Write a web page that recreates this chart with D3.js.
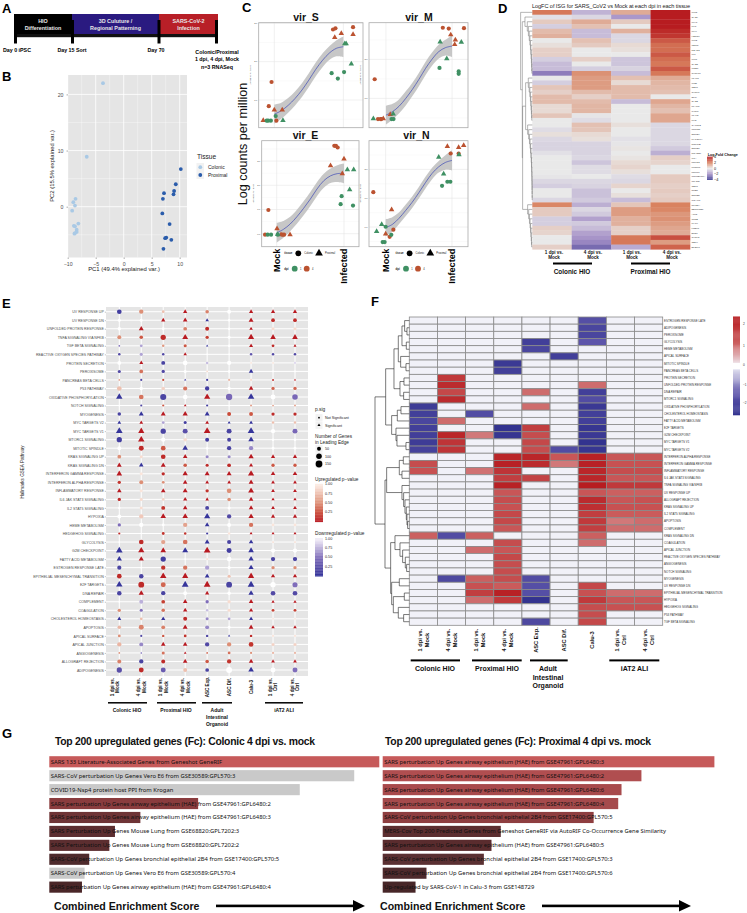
<!DOCTYPE html>
<html><head><meta charset="utf-8">
<script src="https://cdnjs.cloudflare.com/ajax/libs/d3/7.8.5/d3.min.js"></script>
<style>html,body{margin:0;padding:0;background:#fff}svg{display:block}text{font-family:"Liberation Sans",Arial,sans-serif}</style>
</head><body><svg id="fig" width="747" height="913"></svg>
<script>
// ---------- Panel B ----------
const pcaColonic=[[-3.7,22],[-6.6,8.9],[-8.6,1.4],[-9,0.8],[-8.7,0.2],[-9.2,-0.7],[-8.1,-3],[-8.9,-3.4],[-8.7,-3.5],[-8.4,-4.1],[-8.4,-4.5],[-8.7,-4.7],[-8.8,-4.8]];
const pcaProximal=[[10.2,6.7],[9.3,4],[9,2.8],[8.9,2.2],[7.2,2.4],[7,1.4],[6.9,-1.2],[8.2,-3.1],[7.6,-5.5],[7.4,-5.6],[8.5,-5.9],[7.1,-7.5]];
// ---------- Panel C : [x, y, tissue, dpi] ----------
const virS=[[.85,2.84,'c',4],[.885,2.87,'c',4],[1.14,2.9,'c',4],[-.04,1.47,'c',4],[-.08,.84,'c',4],[.03,.46,'c',4],[.875,2.63,'p',4],[.97,2.74,'p',4],[1.14,2.71,'p',4],[-.16,.47,'p',4],[0,.74,'p',4],[.115,.74,'p',4],[.83,1.7,'c',1],[.92,1.56,'c',1],[1.01,1.73,'c',1],[.02,.58,'c',1],[-.09,.46,'c',1],[-.05,.46,'c',1],[-.11,.46,'c',1],[1.02,2.47,'p',1],[1.04,2.47,'p',1],[1.115,1.94,'p',1],[.125,.47,'p',1]];
const virM=[[.86,2.81,'c',4],[.95,2.79,'c',4],[1.18,2.8,'c',4],[-.17,1.49,'c',4],[-.12,.47,'c',4],[-.07,.47,'c',4],[-.08,.47,'c',4],[.98,2.63,'p',4],[1.05,2.5,'p',4],[1.04,2.38,'p',4],[.065,.59,'p',4],[-.04,.48,'p',4],[.81,1.78,'c',1],[1.1,1.69,'c',1],[1.1,1.63,'c',1],[.085,.47,'c',1],[.115,.47,'c',1],[.82,2.45,'p',1],[.92,2.02,'p',1],[1.14,2.44,'p',1],[-.19,.48,'p',1],[.11,.6,'p',1]];
const virE=[[.856,3.63,'c',4],[.88,3.63,'c',4],[.906,3.56,'c',4],[-.124,.98,'c',4],[-.173,-.04,'c',4],[.084,-.04,'c',4],[.109,-.04,'c',4],[.8,2.81,'p',4],[1,3.09,'p',4],[.975,2.48,'p',4],[.005,.21,'p',4],[.198,-.04,'p',4],[.064,-.04,'p',4],[.965,1.55,'c',1],[.95,1.22,'c',1],[1.134,1.16,'c',1],[-.084,-.04,'c',1],[-.134,-.04,'c',1],[.015,-.04,'c',1],[1.05,2.64,'p',1],[1.144,2.64,'p',1],[1.084,1.82,'p',1],[.015,-.03,'p',1]];
const virN=[[-.186,1.21,'c',4],[.98,2.55,'c',4],[1.1,2.55,'c',4],[.06,-.34,'c',4],[.116,-.09,'c',4],[.93,2.8,'p',4],[1.1,2.76,'p',4],[1.176,2.83,'p',4],[.09,.6,'p',4],[0,-.24,'p',4],[.85,1.43,'c',1],[.93,1.57,'c',1],[.975,1.57,'c',1],[-.045,-.52,'c',1],[-.015,-.52,'c',1],[.085,-.27,'c',1],[0,.01,'c',1],[.8,2.42,'p',1],[.874,1.84,'p',1],[1.105,2.51,'p',1],[-.06,.09,'p',1],[-.136,-.15,'p',1]];
const fitX=[0,.1,.2,.3,.4,.5,.6,.7,.8,.9,1];
const fitS=[.63,.72,.86,1.04,1.26,1.52,1.8,2.04,2.23,2.35,2.39], seS=[.25,.21,.19,.18,.18,.18,.18,.18,.18,.21,.27];
const fitM=[.57,.66,.8,1,1.23,1.49,1.77,2.01,2.2,2.3,2.34], seM=[.24,.2,.18,.18,.17,.17,.17,.17,.18,.2,.28];
const fitE=[.04,.18,.4,.7,1.05,1.43,1.85,2.19,2.39,2.48,2.49], seE=[.41,.35,.3,.29,.29,.29,.29,.29,.3,.35,.41];
const fitN=[-.02,.09,.3,.57,.86,1.19,1.54,1.86,2.09,2.24,2.31], seN=[.29,.25,.2,.2,.2,.2,.2,.2,.2,.25,.35];
// ---------- Panel D ----------
const dCols=["1 dpi vs.|Mock","4 dpi vs.|Mock","1 dpi vs.|Mock","4 dpi vs.|Mock"];
const isgGenes=["IFIT3","OASL","IFIH1","MX1","IFI44","HERC6","IFIT2","ISG15","RSAD2","IFI6","IFIT1","OAS3","IFNB1","CXCL10","ICAM1","IFI35","GBP1","CXCL8","SLPI","OAS2","PLAUR","TXNIP","IRAK2","MX2","GALNT2","TRIM25","SOCS4","MAP3K14","RNF19B","SOCS7","RNASEL","IL1A","PRKD2","MINPP1","PRMT1","TNFRSF10A","TRADD","GBP7","NUB1","SOCS5","TICAM1","NFKBIA","SERPINE1","ATF3","JUNB","MAFF","FOSL1","ETS1","CXCL3","GBP4","EPSTI1"];
const isgValues=[[2.2,-1.2,1.2,4.5],[-.2,-.4,-1.8,4.5],[.6,1.2,.6,4.5],[-.6,.8,0,4.5],[.9,-1,1.1,3.7],[1.1,-1,-.4,3.5],[0,.8,-.4,2.8],[.2,.6,.3,2.4],[.5,0,.2,2.4],[.5,0,0,2.8],[-.6,.5,-.8,2.4],[-1,0,-.8,2.2],[-1,-.6,-.5,2.8],[-2.4,1.7,-1,2.2],[0,1.5,.8,1.2],[-.6,1.5,.3,1],[.7,1.5,.9,.9],[.5,.9,.9,.8],[.9,.5,.9,0],[.9,.9,-1,1.3],[.3,1,0,1],[.3,1,0,.8],[.7,-.1,0,1.3],[0,-.3,0,1.3],[0,.8,.2,-.4],[-.3,.7,0,-.4],[.2,.3,0,-.4],[-.4,.2,-.2,-.4],[-.5,-.5,-.1,-.4],[-.5,-.5,.1,-.7],[-.2,-.5,0,-1.3],[0,-.4,.1,.5],[0,-.8,.3,.4],[0,-.3,.4,0],[0,-.3,.2,0],[-.1,0,-.3,.6],[-.4,-.4,-.4,.6],[-.6,-.5,.4,.5],[0,-.9,0,.6],[0,-.9,.2,.5],[-.4,-.7,-1,.6],[1.9,-1.3,.7,2],[.6,-.4,1.5,1.9],[.6,-.7,1.5,1.6],[-.6,-1.6,1.1,1.7],[-.6,-.7,1.1,1.5],[.5,-1,.5,1.3],[.4,-1.6,.5,1.2],[0,-1.9,2.2,3],[0,-2.2,2.2,1.5],[.5,-2.8,-1.4,2.6]];
// ---------- Panel E ----------
const gseaPathways=["UV RESPONSE UP","UV RESPONSE DN","UNFOLDED PROTEIN RESPONSE","TNFA SIGNALING VIA NFKB","TGF BETA SIGNALING","REACTIVE OXYGEN SPECIES PATHWAY","PROTEIN SECRETION","PEROXISOME","PANCREAS BETA CELLS","P53 PATHWAY","OXIDATIVE PHOSPHORYLATION","NOTCH SIGNALING","MYOGENESIS","MYC TARGETS V2","MYC TARGETS V1","MTORC1 SIGNALING","MITOTIC SPINDLE","KRAS SIGNALING UP","KRAS SIGNALING DN","INTERFERON GAMMA RESPONSE","INTERFERON ALPHA RESPONSE","INFLAMMATORY RESPONSE","IL6 JAK STAT3 SIGNALING","IL2 STAT5 SIGNALING","HYPOXIA","HEME METABOLISM","HEDGEHOG SIGNALING","GLYCOLYSIS","G2M CHECKPOINT","FATTY ACID METABOLISM","ESTROGEN RESPONSE LATE","EPITHELIAL MESENCHYMAL TRANSITION","E2F TARGETS","DNA REPAIR","COMPLEMENT","COAGULATION","CHOLESTEROL HOMEOSTASIS","APOPTOSIS","APICAL SURFACE","APICAL JUNCTION","ANGIOGENESIS","ALLOGRAFT REJECTION","ADIPOGENESIS"];
const gseaCols=["1 dpi vs.|Mock","4 dpi vs.|Mock","1 dpi vs.|Mock","4 dpi vs.|Mock","ASC Exp.","ASC Dif.","Calu-3","1 dpi vs.|Ctrl","4 dpi vs.|Ctrl"];
// signed p: positive = upregulated, negative = downregulated; |p| < .05 = significant
const gseaP=[[-.1,.5,.75,.02,.45,1,.02,.02,.02],[1,1,.02,.02,-.02,1,.02,.1,.1],[1,.02,1,.45,.1,1,.02,.9,.9],[.5,.3,.1,.02,.2,1,.02,.02,.02],[-.5,-.7,.55,.3,-.02,1,.02,.1,.02],[-.2,-.7,-.2,.02,1,1,-.3,-.2,-.2],[1,.02,-.15,1,-.8,1,.95,.95,-.9],[-.2,.4,-.2,1,.9,1,-.02,1,1],[.6,-.2,.25,-.02,-.1,.7,.9,.1,.02],[.75,1,.85,.4,-.1,1,.02,.35,.35],[-.02,.4,-.15,1,.02,-.45,-.02,1,-.45],[1,-.2,.3,.02,-.1,1,.6,.6,.6],[-.15,-.02,.02,.02,-.02,.25,.3,.1,.1],[-.02,.02,-.7,-.1,.02,-.02,-.02,.75,.75],[-.02,.02,-.15,-.25,.02,-.15,-.02,1,-.45],[-.1,.02,1,.9,-.1,-.15,-.02,1,1],[1,.1,.3,-.02,1,-.15,-.6,1,1],[.5,.9,.1,.02,-.6,-.6,.02,.02,.02],[.02,-.02,.02,.3,.1,.1,.02,.3,.3],[.02,.95,.1,.02,.02,.02,.02,.02,.02],[.15,.5,.5,.02,.02,.02,.02,.02,.02],[.02,.95,.02,.02,.15,.5,.02,.02,.02],[.1,.9,.85,.02,.02,.5,.02,.02,.02],[1,.9,.15,.02,-.15,1,.02,.02,.02],[1,.8,.02,.02,-.02,-.2,.02,.02,.02],[-.5,1,1,.6,-.02,1,.4,.95,.95],[.1,1,.15,.15,-.1,.95,.02,.02,.02],[1,.1,.6,.4,-.02,-.15,-.02,.9,.9],[-.02,.02,.02,-.02,.02,-.1,-.02,1,1],[-.02,.02,-.1,1,.95,1,-.02,-.15,-.15],[-.15,1,.15,.4,-.7,1,-.02,.5,.5],[.1,-.15,.02,.02,-.02,.75,.02,.02,.02],[-.02,.1,.35,-.02,.02,-.15,-.02,1,-.5],[-.15,.02,-.15,1,.02,1,-.02,-.2,-.2],[1,-.75,.2,.02,-.5,.9,.02,.02,.02],[.5,-.5,.4,.02,-.8,.9,.02,.2,.2],[-.02,.75,-.02,.1,-.6,-.7,-.02,.95,.95],[.7,.45,.45,.02,-.6,1,.02,.02,.02],[.5,-.2,.3,.15,-.2,-.02,.1,.95,.95],[.7,-.6,.02,.02,-.2,.5,.15,.85,.85],[.5,-.4,.4,.02,.35,.4,.5,.7,.7],[.45,-.15,.1,.02,.3,.15,.02,.02,.02],[-.25,.1,-.35,.75,-.15,1,-.02,1,-.5]];
const gseaGenes=[[70,60,25,50,40,50,50,50,50],[30,30,50,60,35,20,70,45,45],[40,70,25,45,50,20,35,30,30],[50,40,90,100,35,30,110,90,90],[10,25,20,30,15,20,45,25,25],[20,30,20,35,10,10,20,20,20],[50,45,50,70,20,60,10,10,15],[30,45,35,30,10,20,60,10,10],[10,15,15,15,15,15,15,12,15],[70,40,40,55,60,35,60,35,35],[120,70,120,70,110,130,120,80,100],[10,15,15,20,15,10,15,10,12],[40,70,70,80,70,50,50,35,35],[40,40,25,30,40,25,40,20,20],[130,110,90,80,130,80,130,60,80],[90,120,60,40,50,50,90,20,20],[50,80,70,90,20,60,60,25,25],[45,30,70,60,30,30,80,50,50],[65,60,70,40,30,45,45,35,35],[90,30,35,80,70,70,110,60,60],[35,50,25,60,40,40,70,40,40],[60,30,60,70,35,70,100,40,40],[35,30,25,50,35,40,60,30,30],[20,30,50,60,50,30,60,40,40],[50,60,90,90,110,60,80,50,50],[35,60,25,60,60,50,60,25,25],[15,5,25,20,15,20,25,25,25],[10,70,60,70,70,55,60,10,10],[130,110,90,100,130,80,90,60,60],[80,75,90,10,15,70,80,60,60],[55,10,60,60,60,30,75,35,35],[70,65,120,110,65,30,110,50,50],[120,110,80,130,130,110,130,90,85],[65,80,60,50,50,40,80,70,70],[10,50,45,60,35,35,60,30,30],[35,30,40,55,20,30,50,25,25],[45,25,50,50,30,25,45,10,10],[40,80,45,70,50,30,65,35,35],[25,15,20,25,20,15,20,15,15],[60,50,60,60,60,60,70,30,30],[10,8,30,20,10,25,15,15,15],[50,60,50,60,40,60,60,40,40],[90,75,80,50,45,110,90,80,80]];
const groupLabels=["Colonic HIO","Proximal HIO","Adult|Intestinal|Organoid","iAT2 ALI"];
// ---------- Panel F ----------
const fPathways=["ESTROGEN RESPONSE LATE","ADIPOGENESIS","PEROXISOME","GLYCOLYSIS","HEME METABOLISM","APICAL SURFACE","MITOTIC SPINDLE","PANCREAS BETA CELLS","PROTEIN SECRETION","UNFOLDED PROTEIN RESPONSE","DNA REPAIR","MTORC1 SIGNALING","OXIDATIVE PHOSPHORYLATION","CHOLESTEROL HOMEOSTASIS","FATTY ACID METABOLISM","E2F TARGETS","G2M CHECKPOINT","MYC TARGETS V1","MYC TARGETS V2","INTERFERON ALPHA RESPONSE","INTERFERON GAMMA RESPONSE","INFLAMMATORY RESPONSE","IL6 JAK STAT3 SIGNALING","TNFA SIGNALING VIA NFKB","UV RESPONSE UP","ALLOGRAFT REJECTION","KRAS SIGNALING UP","IL2 STAT5 SIGNALING","APOPTOSIS","COMPLEMENT","KRAS SIGNALING DN","COAGULATION","APICAL JUNCTION","REACTIVE OXYGEN SPECIES PATHWAY","ANGIOGENESIS","NOTCH SIGNALING","MYOGENESIS","UV RESPONSE DN","EPITHELIAL MESENCHYMAL TRANSITION","HYPOXIA","HEDGEHOG SIGNALING","P53 PATHWAY","TGF BETA SIGNALING"];
const fValues=[[0,0,0,0,0,0,-1.7,0,0],[0,0,0,0,0,0,-2,0,0],[0,0,0,0,0,0,-2,0,0],[0,0,0,0,-2.2,0,-1.5,0,0],[0,0,0,0,-2,0,0,0,0],[0,0,0,0,0,-2.2,0,0,0],[0,0,0,-2.4,0,0,0,0,0],[0,0,0,-2.2,0,0,0,0,0],[0,2,0,0,0,0,0,0,0],[0,2.3,0,0,0,0,1.1,0,0],[0,1.7,0,0,1.1,0,-2.2,0,0],[0,2.3,0,0,0,0,-1.8,0,0],[-2.3,0,0,0,1.1,0,-2.4,0,0],[-2.2,0,-1.8,0,0,0,-2.2,0,0],[-2,1.1,0,0,0,0,-2.2,0,0],[-2.2,0,0,-2.6,1.9,0,-2.5,0,0],[-2.2,2.4,1,-2.5,1.6,0,-2.4,0,0],[-2.3,2.1,0,0,1.7,0,-2.6,0,0],[-2.1,2.1,0,0,1.6,-1.8,-2.5,0,0],[0,0,0,2.4,2.4,1.4,2.5,1.4,1.4],[1.6,0,0,2.5,2.3,1,2.5,1.5,1.5],[1.5,0,1.05,2.1,0,0,2.4,1.6,1.6],[0,0,0,1.9,1.8,0,2.4,1.4,1.4],[0,0,0,2.5,0,0,2.6,2,2],[0,0,0,1.4,0,0,1.4,1.2,1.2],[0,0,0,1.6,0,0,2.3,1.4,1.5],[0,0,0,1.5,0,0,2.2,1.5,1.5],[0,0,0,1.7,0,0,1.9,1.3,1.3],[0,0,0,1.7,0,0,2,1,1.1],[0,0,0,1.4,0,0,1.9,1.1,1.1],[1.2,-1.8,1.2,0,0,0,1.2,0,0],[0,0,0,1.6,0,0,1.1,0,0],[0,0,1.1,1.4,0,0,0,0,0],[0,0,0,1.7,0,0,0,0,0],[0,0,0,1.6,0,0,0,0,0],[0,0,0,1.6,0,0,0,0,0],[0,-1.9,1.2,1.6,-1.8,0,0,0,0],[0,0,1.5,1.3,-1.7,0,1.7,0,0],[0,0,1.9,2.5,-1.7,0,1.5,1.1,1.1],[0,0,1.1,2,-2.6,0,2,1.4,1.4],[0,0,0,0,0,0,1.6,1.5,1.5],[0,0,0,0,0,0,1.6,0,0],[0,0,0,0,-1.9,0,1.7,0,0]];
const fTree=[1.03,[.71,[.46,[.33,[.22,[.14,0,[.07,0,0]],[.09,0,0]],[.26,0,[.1,0,0]]],[.28,[.16,0,0],[.17,0,0]]],[.53,[.36,[.25,0,0],0],[.4,0,[.37,0,[.1,0,0]]]]],[.73,[.68,[.3,[.18,0,0],[.22,0,0]],[.22,0,[.17,0,[.13,0,[.09,0,[.07,0,[.05,0,0]]]]]]],[.56,[.43,0,[.28,0,[.2,0,[.12,0,[.08,0,0]]]]],[.53,[.3,0,0],[.48,[.15,0,0],[.33,0,[.17,0,0]]]]]]];
// ---------- Panel G ----------
const gLeftLabels=["SARS 133 Literature-Associated Genes from Geneshot GeneRIF","SARS-CoV perturbation Up Genes Vero E6 from GSE30589:GPL570:3","COVID19-Nsp4 protein host PPI from Krogan","SARS perturbation Up Genes airway epithelium (HAE) from GSE47961:GPL6480:2","SARS perturbation Up Genes airway epithelium (HAE) from GSE47961:GPL6480:3","SARS Perturbation Up Genes Mouse Lung from GSE68820:GPL7202:3","SARS Perturbation Up Genes Mouse Lung from GSE68820:GPL7202:2","SARS-CoV perturbation Up Genes bronchial epithelial 2B4 from GSE17400:GPL570:5","SARS-CoV perturbation Up Genes Vero E6 from GSE30589:GPL570:4","SARS perturbation Up Genes airway epithelium (HAE) from GSE47961:GPL6480:4"];
const gLeftScores=[100,92.4,75.9,45.1,27.6,19.9,18.2,12.1,10.7,9.9];
const gLeftFill=["#c65a5a","#c9c9c9","#c9c9c9","#8a3c3e","#6e3436","#5c2e30","#5c2e30","#4e2a2c","#c9c9c9","#4a2628"];
const gRightLabels=["SARS perturbation Up Genes airway epithelium (HAE) from GSE47961:GPL6480:3","SARS perturbation Up Genes airway epithelium (HAE) from GSE47961:GPL6480:2","SARS perturbation Up Genes airway epithelium (HAE) from GSE47961:GPL6480:6","SARS perturbation Up Genes airway epithelium (HAE) from GSE47961:GPL6480:4","SARS-CoV perturbation Up Genes bronchial epithelial 2B4 from GSE17400:GPL570:5","MERS-Cov Top 200 Predicted Genes from Geneshot GeneRIF via AutoRIF Co-Occurrence Gene Similarity","SARS perturbation Up Genes airway epithelium (HAE) from GSE47961:GPL6480:5","SARS-CoV perturbation Up Genes bronchial epithelial 2B4 from GSE17400:GPL570:3","SARS-CoV perturbation Up Genes bronchial epithelial 2B4 from GSE17400:GPL570:6","Up-regulated by SARS-CoV-1 in Calu-3 from GSE148729"];
const gRightScores=[100,78,72,71,63.6,35.6,32.8,30.5,13.2,9.9];
const gRightFill=["#c65a5a","#b04e50","#a84a4c","#a54a4c","#8e3e40","#5c2e30","#5a2c2e","#5a3032","#4e2a2c","#472628"];

const svg=d3.select("#fig");
function T(g,x,y,s,o={}){const t=g.append("text").attr("x",x).attr("y",y).text(s)
 .attr("font-size",o.size||5).attr("fill",o.fill||"#000").attr("font-weight",o.bold?"bold":"normal")
 .attr("text-anchor",o.anchor||"start");
 if(o.family)t.style("font-family",o.family); if(o.base)t.attr("dominant-baseline",o.base);
 if(o.len)t.attr("textLength",o.len).attr("lengthAdjust","spacing");
 if(o.rot!=null)t.attr("transform",`rotate(${o.rot},${x},${y})`);return t;}
// panel letters
[["A",2,13],["B",2,81],["C",242,12],["D",498,13],["E",2,308],["F",371,306],["G",2,738]].forEach(d=>T(svg,d[1],d[2],d[0],{size:13,bold:true}));

// ---------- A ----------
(function(){const g=svg.append("g");
 const stages=[{x:14,w:58,c:"#000",l:["HIO","Differentiation"]},{x:72,w:87,c:"#2a1a80",l:["3D Culuture /","Regional Patterning"]},{x:159,w:59,c:"#b81f27",l:["SARS-CoV-2","Infection"]}];
 stages.forEach(s=>{g.append("rect").attr("x",s.x).attr("y",14).attr("width",s.w).attr("height",20).attr("fill",s.c);
  s.l.forEach((t,i)=>T(g,s.x+s.w/2,22.5+i*7,t,{size:5.4,bold:true,fill:"#e8e8e8",anchor:"middle"}));});
 g.append("rect").attr("x",14).attr("y",34).attr("width",204).attr("height",3.2).attr("fill","#111");
 [14,71,157.5,215].forEach(x=>g.append("rect").attr("x",x).attr("width",3).attr("height",23.5).attr("fill","#000").attr("y",20));
 T(g,17,52,"Day 0 iPSC",{size:5.3,bold:true,anchor:"middle"});
 T(g,72,52,"Day 15 Sort",{size:5.3,bold:true,anchor:"middle"});
 T(g,156,51.5,"Day 70",{size:5.3,bold:true,anchor:"middle"});
 ["Colonic/Proximal","1 dpi, 4 dpi, Mock","n=3 RNASeq"].forEach((t,i)=>T(g,217,53.5+i*7.5,t,{size:5.3,bold:true,anchor:"middle"}));
})();

// ---------- B ----------
(function(){const g=svg.append("g");const L=68,R=187,Tp=75,B=257.5;
 const x=d3.scaleLinear().domain([-10,11.25]).range([67.7,186.7]);
 const y=d3.scaleLinear().domain([0,20]).range([206.7,94.4]);
 g.append("rect").attr("x",L).attr("y",Tp).attr("width",R-L).attr("height",B-Tp).attr("fill","#e5e5e5");
 [-7.5,-2.5,2.5,7.5].forEach(v=>g.append("line").attr("x1",x(v)).attr("x2",x(v)).attr("y1",Tp).attr("y2",B).attr("stroke","#fff").attr("stroke-width",.35));
 [15,5,-5].forEach(v=>g.append("line").attr("y1",y(v)).attr("y2",y(v)).attr("x1",L).attr("x2",R).attr("stroke","#fff").attr("stroke-width",.35));
 [-10,-5,0,5,10].forEach(v=>g.append("line").attr("x1",x(v)).attr("x2",x(v)).attr("y1",Tp).attr("y2",B).attr("stroke","#fff").attr("stroke-width",.8));
 [20,10,0].forEach(v=>g.append("line").attr("y1",y(v)).attr("y2",y(v)).attr("x1",L).attr("x2",R).attr("stroke","#fff").attr("stroke-width",.8));
 const ax=g.append("g").attr("transform",`translate(0,${B})`).call(d3.axisBottom(x).tickValues([-10,-5,0,5,10]).tickSize(1.5).tickFormat(d=>String(d).replace("-","\u2212")));
 const ay=g.append("g").attr("transform",`translate(${L},0)`).call(d3.axisLeft(y).tickValues([0,10,20]).tickSize(1.5));
 [ax,ay].forEach(a=>{a.select(".domain").remove();a.selectAll("text").attr("font-size",5.2).attr("fill","#4d4d4d").style("font-family",'"Liberation Sans"');a.selectAll("line").attr("stroke","#333").attr("stroke-width",.4);});
 g.selectAll(".c").data(pcaColonic).join("circle").attr("cx",d=>x(d[0])).attr("cy",d=>y(d[1])).attr("r",1.9).attr("fill","#a9c9e5");
 g.selectAll(".p").data(pcaProximal).join("circle").attr("cx",d=>x(d[0])).attr("cy",d=>y(d[1])).attr("r",1.9).attr("fill","#2a5cab");
 T(g,124,270.5,"PC1 (49.4% explained var.)",{size:5.9,anchor:"middle",fill:"#222"});
 T(g,54,166,"PC2 (15.5% explained var.)",{size:5.9,anchor:"middle",rot:-90,fill:"#222"});
 T(g,197,159,"Tissue",{size:6.6,fill:"#222"});
 g.append("rect").attr("x",196.5).attr("y",163).attr("width",7.5).attr("height",16).attr("fill","#f2f2f2");
 [["Colonic","#a9c9e5",167.2],["Proximal","#2a5cab",175]].forEach(d=>{g.append("circle").attr("cx",200.3).attr("cy",d[2]).attr("r",1.9).attr("fill",d[1]);
  T(g,208,d[2]+1.8,d[0],{size:5,fill:"#222"});});
})();

// ---------- C ----------
(function(){const orange="#bb5230",green="#3f9063";const g=svg.append("g");
 const facets=[
 {t:"vir_S",d:virS,fit:fitS,se:seS,x0:258.7,x1:363,y0:22.7,y1:127.7,xd:[-.226,1.284],yd:[.278,3.017],ticks:[1,2,3],minor:[.5,1.5,2.5],tx:306},
 {t:"vir_M",d:virM,fit:fitM,se:seM,x0:369,x1:468,y0:22.7,y1:127.7,xd:[-.256,1.241],yd:[.248,2.94],ticks:[1,2],minor:[.5,1.5,2.5],tx:419},
 {t:"vir_E",d:virE,fit:fitE,se:seE,x0:261.7,x1:359,y0:140.7,y1:246.7,xd:[-.223,1.223],yd:[-.536,3.84],ticks:[0,1,2,3],minor:[.5,1.5,2.5,3.5],tx:305.5,bottom:1,lx:0},
 {t:"vir_N",d:virN,fit:fitN,se:seN,x0:369,x1:468,y0:140.7,y1:246.7,xd:[-.251,1.241],yd:[-.682,2.994],ticks:[0,1,2],minor:[-.5,.5,1.5,2.5],tx:416.5,bottom:1,lx:111.3}];
 const sym=d3.symbol().type(d3.symbolTriangle).size(13);
 facets.forEach(f=>{
  const x=d3.scaleLinear().domain(f.xd).range([f.x0,f.x1]),y=d3.scaleLinear().domain(f.yd).range([f.y1,f.y0]);
  f.minor.forEach(v=>g.append("line").attr("x1",f.x0).attr("x2",f.x1).attr("y1",y(v)).attr("y2",y(v)).attr("stroke","#f2f2f2").attr("stroke-width",.4));
  f.ticks.forEach(v=>{g.append("line").attr("x1",f.x0).attr("x2",f.x1).attr("y1",y(v)).attr("y2",y(v)).attr("stroke","#e6e6e6").attr("stroke-width",.6);
   T(g,f.x0-1.5,y(v)+.8,v.toFixed(1),{size:2.2,anchor:"end",fill:"#444"});});
  [0,1].forEach(v=>g.append("line").attr("y1",f.y0).attr("y2",f.y1).attr("x1",x(v)).attr("x2",x(v)).attr("stroke","#e6e6e6").attr("stroke-width",.6));
  const band=d3.area().x((d,i)=>x(fitX[i])).y0((d,i)=>y(f.fit[i]-f.se[i])).y1((d,i)=>y(f.fit[i]+f.se[i])).curve(d3.curveCatmullRom);
  g.append("path").attr("d",band(f.fit)).attr("fill","#bdbdbd").attr("opacity",.85);
  const ln=d3.line().x((d,i)=>x(fitX[i])).y((d,i)=>y(f.fit[i])).curve(d3.curveCatmullRom);
  g.append("path").attr("d",ln(f.fit)).attr("fill","none").attr("stroke","#3e49b5").attr("stroke-width",.7);
  g.append("rect").attr("x",f.x0).attr("y",f.y0).attr("width",f.x1-f.x0).attr("height",f.y1-f.y0).attr("fill","none").attr("stroke","#aaa").attr("stroke-width",.8);
  f.d.forEach(p=>{const c=p[3]==4?orange:green;
   if(p[2]=="c")g.append("circle").attr("cx",x(p[0])).attr("cy",y(p[1])).attr("r",2.1).attr("fill",c);
   else g.append("path").attr("d",sym()).attr("transform",`translate(${x(p[0])},${y(p[1])})`).attr("fill",c);});
  T(g,f.tx,f.y0-2.2,f.t,{size:10.5,bold:true,anchor:"middle",fill:"#111"});
  T(g,f.x0-7.5,(f.y0+f.y1)/2,"Log counts per million",{size:2,anchor:"middle",rot:-90,fill:"#444"});
  if(f.bottom){
   T(g,x(0)+3.2,248.5,"Mock",{size:9.2,bold:true,anchor:"end",rot:-90});
   T(g,x(1)+3.2,248.5,"Infected",{size:9.2,bold:true,anchor:"end",rot:-90});
   const d=f.lx;
   T(g,284.3+d,254.3,"tissue",{size:2.8,bold:true,fill:"#222"});
   g.append("circle").attr("cx",298.3+d).attr("cy",253.3).attr("r",2.9).attr("fill","#000");
   T(g,304.3+d,254.3,"Colonic",{size:2.6,fill:"#222"});
   g.append("path").attr("d",d3.symbol().type(d3.symbolTriangle).size(26)()).attr("transform",`translate(${319+d},253.3)`).attr("fill","#000");
   T(g,325+d,254.3,"Proximal",{size:2.6,fill:"#222"});
   T(g,284.3+d,269.7,"dpi",{size:2.8,bold:true,fill:"#222"});
   g.append("circle").attr("cx",294.7+d).attr("cy",268.7).attr("r",2.9).attr("fill",green);
   T(g,300+d,269.7,"1",{size:2.6,fill:"#222"});
   g.append("circle").attr("cx",306.7+d).attr("cy",268.7).attr("r",2.9).attr("fill",orange);
   T(g,312+d,269.7,"4",{size:2.6,fill:"#222"});
  }
 });
 T(g,247,144,"Log counts per million",{size:12.6,anchor:"middle",rot:-90,fill:"#111"});
})();

// helper: dendrogram from a nested [height, child, child] tree
function comb(n,h){ // ladder-shaped clade
 if(n==1)return 0; const nh=h*0.78; return [h,0,comb(n-1,nh)];
}
function dendro(g,tree,yOf,xOf,stroke,w){
 const root=d3.hierarchy(tree,d=>Array.isArray(d)?d.slice(1):null);let i=0;
 root.eachAfter(n=>{if(!n.children){n.py=yOf(i++);n.ph=0;}else{n.py=d3.mean(n.children,c=>c.py);n.ph=n.data[0];}});
 const p=d3.path();
 root.each(n=>{if(n.children){const a=n.children[0],b=n.children[1];
  p.moveTo(xOf(a.ph),a.py);p.lineTo(xOf(n.ph),a.py);p.lineTo(xOf(n.ph),b.py);p.lineTo(xOf(b.ph),b.py);}});
 g.append("path").attr("d",p.toString()).attr("fill","none").attr("stroke",stroke).attr("stroke-width",w);
}
function colLabel(g,x,y,s,size,gap,o={}){const parts=s.split("|");
 parts.forEach((t,i)=>T(g,x+(i-(parts.length-1)/2)*gap+size*.36,y,t,{size,bold:true,anchor:"middle",rot:-90,...o}));}

// ---------- D ----------
(function(){const g=svg.append("g");
 const x=d3.scaleBand().domain(d3.range(4)).range([532.3,690]);
 const y=d3.scaleBand().domain(d3.range(isgGenes.length)).range([10,249.3]);
 const col=d3.scaleLinear().domain([-4,-2,0,2,4]).range(["#35358f","#a48fc6","#e9e9e9","#d9825f","#b71c20"]).clamp(true);
 isgValues.forEach((r,i)=>r.forEach((v,j)=>g.append("rect").attr("x",x(j)).attr("y",y(i)).attr("width",x.bandwidth()+.3).attr("height",y.bandwidth()+.3).attr("fill",col(v))));
 isgGenes.forEach((s,i)=>T(g,691.5,y(i)+y.bandwidth()/2+.8,s,{size:2.4,fill:"#333"}));
 T(g,532,8,"LogFC of ISG for SARS_CoV2 vs Mock at each dpi in each tissue",{size:5.6,fill:"#222",len:158});
 const tree=[35,0,[30,[22,0,comb(12,15)],[29,[20,comb(10,12),comb(17,14)],comb(10,14)]]];
 dendro(g,tree,i=>y(i)+y.bandwidth()/2,h=>532.3-h/3,"#777",.55);
 [554,593,632,672].forEach((cx,j)=>dCols[j].split("|").forEach((t,i)=>T(g,cx,254+i*5,t,{size:4.6,bold:true,anchor:"middle",fill:"#111"})));
 [[553,592,"Colonic HIO",572],[631,670,"Proximal HIO",650.5]].forEach(b=>{g.append("rect").attr("x",b[0]).attr("y",262.5).attr("width",b[1]-b[0]).attr("height",2).attr("fill","#000");
  T(g,b[3],273.5,b[2],{size:6.4,bold:true,anchor:"middle",fill:"#111"});});
 T(g,707.7,155.5,"Log Fold Change",{size:3.7,bold:true,fill:"#111"});
 const ly=d3.scaleLinear().domain([4,-4]).range([157,179.5]);
 d3.range(-4,4.01,.25).forEach(v=>g.append("rect").attr("x",707).attr("y",ly(v)-.35).attr("width",5.7).attr("height",.8).attr("fill",col(v)));
 [4,2,0,-2,-4].forEach(v=>T(g,714,ly(v)+1.4,String(v).replace("-","\u2212"),{size:3.8,fill:"#111"}));
})();

// shared group bars
function groupBars(g,bars,yb,yl,size,lh,thick){bars.forEach((b,i)=>{
 g.append("rect").attr("x",b[0]).attr("y",yb-thick/2).attr("width",b[1]-b[0]).attr("height",thick).attr("fill","#000");
 groupLabels[i].split("|").forEach((t,k)=>T(g,b[2],yl+k*lh,t,{size,bold:true,anchor:"middle",fill:"#111"}));});}

// ---------- E ----------
(function(){const g=svg.append("g");const L=106,R=308,Tp=307,B=676;
 const x=d3.scalePoint().domain(d3.range(9)).range([119.3,295]);
 const y=d3.scalePoint().domain(gseaPathways).range([311.7,670]);
 g.append("rect").attr("x",L).attr("y",Tp).attr("width",R-L).attr("height",B-Tp).attr("fill","#e5e5e5");
 gseaPathways.forEach(p=>g.append("line").attr("x1",L).attr("x2",R).attr("y1",y(p)).attr("y2",y(p)).attr("stroke","#fff").attr("stroke-width",1));
 d3.range(9).forEach(j=>g.append("line").attr("x1",x(j)).attr("x2",x(j)).attr("y1",Tp).attr("y2",B).attr("stroke","#fff").attr("stroke-width",1));
 const ay=g.append("g").attr("transform",`translate(${L},0)`).call(d3.axisLeft(y).tickSize(1.2).tickPadding(1));
 ay.select(".domain").remove();ay.selectAll("text").attr("font-size",3.55).attr("fill","#4d4d4d").style("font-family",'"Liberation Sans"');ay.selectAll("line").attr("stroke","#333").attr("stroke-width",.3);
 const up=d3.scaleLinear().domain([0,.25,.5,.97,1]).range(["#b7161f","#c94a38","#dd8f76","#fbe9e0","#ffffff"]);
 const dn=d3.scaleLinear().domain([0,.25,.5,.97,1]).range(["#33339a","#5a4fa8","#7f6dba","#efeaf6","#ffffff"]);
 const rad=d3.scaleSqrt().domain([0,150]).range([0,3.4]);
 gseaPathways.forEach((p,i)=>gseaP[i].forEach((v,j)=>{
  const c=v>=0?up(v):dn(-v),r=rad(gseaGenes[i][j]);
  if(Math.abs(v)<.05)g.append("path").attr("d",d3.symbol().type(d3.symbolTriangle).size(Math.PI*r*r*.62)()).attr("transform",`translate(${x(j)},${y(p)})`).attr("fill",c);
  else g.append("circle").attr("cx",x(j)).attr("cy",y(p)).attr("r",r).attr("fill",c);}));
 T(g,24,472,"Hallmarks GSEA Pathway",{size:4.6,anchor:"middle",rot:-90,fill:"#222"});
 const lab=[114.5,141.3,163.3,185.3,207,229,251,273,295];
 gseaCols.forEach((s,j)=>colLabel(g,lab[j],687,s,4.6,5.2,{fill:"#111"}));
 groupBars(g,[[108,147,127],[157,196,176],[202,232,217],[265,303,284]],702.8,711.5,5,7.4,1.5);
 // legends
 T(g,315,411,"p.sig",{size:4.8,fill:"#222"});
 [["Not Significant",417.7,"circle"],["Significant",425.2,"tri"]].forEach(d=>{
  g.append("rect").attr("x",315.5).attr("y",d[1]-3.6).attr("width",7).attr("height",7.2).attr("fill","#f2f2f2");
  if(d[2]=="circle")g.append("circle").attr("cx",319).attr("cy",d[1]).attr("r",.9).attr("fill","#000");
  else g.append("path").attr("d",d3.symbol().type(d3.symbolTriangle).size(4)()).attr("transform",`translate(319,${d[1]})`).attr("fill","#000");
  T(g,325,d[1]+1.3,d[0],{size:3.7,fill:"#222"});});
 T(g,315,438,"Number of Genes",{size:4.7,fill:"#222"});T(g,315,444,"in Leading Edge",{size:4.7,fill:"#222"});
 [[50,448.7],[100,456.3],[150,464]].forEach(d=>{g.append("rect").attr("x",315.5).attr("y",d[1]-3.8).attr("width",7).attr("height",7.6).attr("fill","#f2f2f2");
  g.append("circle").attr("cx",319).attr("cy",d[1]).attr("r",rad(d[0])).attr("fill","#000");T(g,325,d[1]+1.3,String(d[0]),{size:3.7,fill:"#222"});});
 const bar=(title,ty,y0,y1,scale)=>{T(g,315,ty,title,{size:4.7,fill:"#222"});
  const s=d3.scaleLinear().domain([1,0]).range([y0,y1]);
  d3.range(0,1.001,.02).forEach(v=>g.append("rect").attr("x",315).attr("y",s(v)-.2).attr("width",8).attr("height",1).attr("fill",scale(Math.min(v,.97))));
  [1,.75,.5,.25].forEach(v=>T(g,325,s(v)+1.2,v.toFixed(2),{size:3.7,fill:"#222"}));};
 bar("Upregulated p\u2212value",481,484,521.3,up);
 bar("Downregulated p\u2212value",535,538.3,575.7,dn);
})();

// ---------- F ----------
(function(){const g=svg.append("g");
 const x=d3.scaleBand().domain(d3.range(9)).range([409.3,662.7]);
 const y=d3.scaleBand().domain(d3.range(fPathways.length)).range([317,625.3]);
 const col=d3.scaleLinear().domain([-2.6,-1.5,0,1.2,2.6]).range(["#33338f","#5d55aa","#f1f1f8","#cb6060","#b71c20"]).clamp(true);
 fValues.forEach((r,i)=>r.forEach((v,j)=>g.append("rect").attr("x",x(j)).attr("y",y(i)).attr("width",x.bandwidth()).attr("height",y.bandwidth()).attr("fill",col(v)).attr("stroke","#8a8a8a").attr("stroke-width",.8)));
 fPathways.forEach((s,i)=>T(g,664,y(i)+y.bandwidth()/2+1,s,{size:2.95,fill:"#333"}));
 dendro(g,fTree,i=>y(i)+y.bandwidth()/2,h=>409.3-h*33.3,"#222",.6);
 gseaCols.forEach((s,j)=>colLabel(g,x(j)+x.bandwidth()/2,640,s,5.7,7.2,{fill:"#111"}));
 groupBars(g,[[410.7,460,435],[472,521.7,497],[530,567.7,548],[609.3,659.3,634.5]],660.4,671,7,8.6,2);
 const ly=d3.scaleLinear().domain([2.6,-2.6]).range([317,414.5]);
 d3.range(-2.6,2.61,.05).forEach(v=>g.append("rect").attr("x",733).attr("y",ly(v)-.5).attr("width",7).attr("height",1.3).attr("fill",v>-.15&&v<.15?"#fff":col(v)));
 [[2,325],[1,347],[0,365.5],[-1,385.5],[-2,404]].forEach(d=>T(g,743,d[1],String(d[0]).replace("-","\u2212"),{size:3.2,fill:"#333"}));
})();

// ---------- G ----------
(function(){const g=svg.append("g");
 const y=d3.scaleBand().domain(d3.range(10)).range([756.2,892.7]).paddingInner(.2).paddingOuter(0);
 const panels=[{x0:49.3,max:379.3,lab:gLeftLabels,sc:gLeftScores,fill:gLeftFill,title:"Top 200 upregulated genes (Fc): Colonic 4 dpi vs. mock",tx:55,tl:260,cx:54,arrow:[216,365]},
 {x0:382.7,max:714.4,lab:gRightLabels,sc:gRightScores,fill:gRightFill,title:"Top 200 upregulated genes (Fc): Proximal 4 dpi vs. mock",tx:385,tl:266,cx:380,arrow:[542,691]}];
 panels.forEach(p=>{const x=d3.scaleLinear().domain([0,100]).range([p.x0,p.max]);
  p.sc.forEach((v,i)=>{g.append("rect").attr("x",x(0)).attr("y",y(i)).attr("width",x(v)-x(0)).attr("height",y.bandwidth()).attr("fill",p.fill[i]);
   T(g,p.x0+1.5,y(i)+y.bandwidth()/2+2,p.lab[i],{size:5.85,fill:"#111",family:'"Noto Sans"'});});
  T(g,p.tx,745,p.title,{size:10.4,bold:true,fill:"#111",len:p.tl});
  T(g,p.cx,910,"Combined Enrichment Score",{size:10.6,bold:true,fill:"#111"});
  g.append("rect").attr("x",p.arrow[0]).attr("y",904.6).attr("width",p.arrow[1]-p.arrow[0]-9).attr("height",2.6).attr("fill","#000");
  g.append("path").attr("d",d3.line()([[p.arrow[1]-12,900],[p.arrow[1],905.9],[p.arrow[1]-12,911.5]])).attr("fill","#000");
 });
})();
</script></body></html>
